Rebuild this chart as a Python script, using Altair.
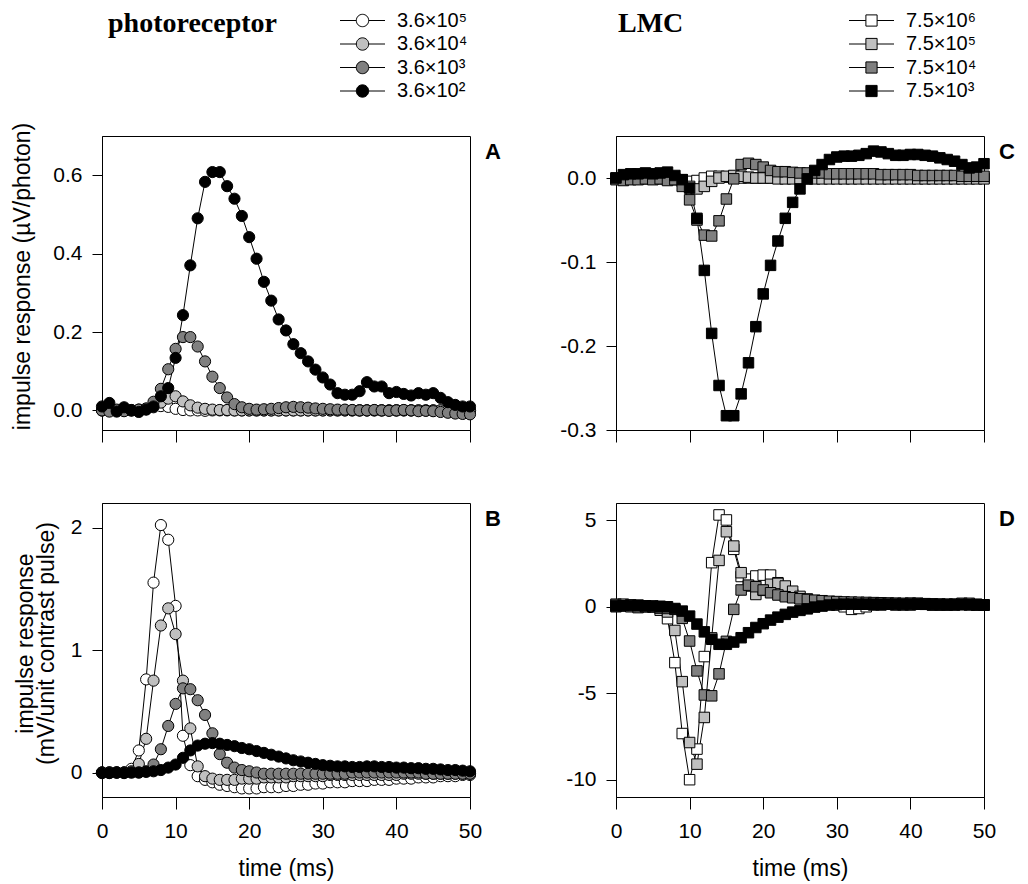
import altair as alt
import pandas as pd

# ---------------- data ----------------
t = list(range(51))  # time (ms)

photo_labels = ["3.6×10⁵", "3.6×10⁴", "3.6×10³", "3.6×10²"]
lmc_labels = ["7.5×10⁶", "7.5×10⁵", "7.5×10⁴", "7.5×10³"]
fills = ["#ffffff", "#c0c0c0", "#808080", "#000000"]

# Panel A: photoreceptor, µV/photon
A_white = [0.000, 0.000, 0.000, 0.000, 0.000, 0.001, 0.003, 0.008, 0.011, 0.009,
           0.004, 0.001, 0.000, 0.000, -0.001, 0.000, 0.000, 0.000, 0.000, 0.000,
           0.000, 0.000, 0.000, 0.000, 0.000, 0.000, 0.000, 0.000, 0.000, 0.000,
           0.000, 0.000, 0.000, 0.000, 0.000, 0.000, 0.000, 0.000, 0.000, 0.000,
           0.000, 0.000, 0.000, 0.000, 0.000, 0.000, 0.000, 0.000, 0.000, 0.000, 0.000]
A_light = [0.000, 0.001, -0.001, 0.000, 0.001, 0.002, 0.004, 0.010, 0.020, 0.030,
           0.036, 0.023, 0.013, 0.007, 0.004, 0.002, 0.001, 0.001, 0.000, 0.000,
           0.000, 0.000, 0.000, 0.000, 0.000, 0.000, 0.000, 0.000, 0.000, 0.000,
           0.000, 0.000, 0.000, 0.000, 0.000, 0.000, 0.000, 0.000, 0.000, 0.000,
           0.000, 0.000, 0.000, 0.000, 0.000, 0.000, 0.000, 0.000, 0.000, 0.000, 0.000]
A_dark = [0.000, -0.003, 0.002, -0.002, 0.000, 0.002, 0.005, 0.022, 0.055, 0.105,
          0.157, 0.187, 0.187, 0.163, 0.125, 0.086, 0.057, 0.033, 0.016, 0.008,
          0.004, 0.002, 0.003, 0.004, 0.006, 0.008, 0.009, 0.008, 0.007, 0.005,
          0.004, 0.003, 0.002, 0.002, 0.001, 0.000, 0.000, 0.001, 0.000, -0.001,
          0.000, 0.001, 0.000, -0.002, -0.001, -0.002, -0.004, -0.006, -0.008, -0.009, -0.010]
A_black = [0.010, 0.019, -0.003, 0.008, 0.000, -0.004, 0.002, 0.010, 0.036, 0.057,
           0.134, 0.243, 0.370, 0.490, 0.583, 0.608, 0.608, 0.572, 0.540, 0.496,
           0.442, 0.387, 0.328, 0.280, 0.232, 0.204, 0.169, 0.146, 0.125, 0.104,
           0.084, 0.066, 0.044, 0.040, 0.040, 0.049, 0.072, 0.061, 0.061, 0.044,
           0.047, 0.042, 0.038, 0.044, 0.040, 0.044, 0.032, 0.021, 0.014, 0.010, 0.010]

# Panel B: photoreceptor, mV/unit contrast pulse
B_white = [0.00, 0.00, 0.00, 0.00, 0.03, 0.18, 0.76, 1.55, 2.02, 1.90,
           1.36, 0.30, 0.06, -0.03, -0.06, -0.08, -0.10, -0.11, -0.12, -0.13,
           -0.13, -0.13, -0.12, -0.12, -0.12, -0.11, -0.11, -0.10, -0.10, -0.09,
           -0.09, -0.08, -0.08, -0.08, -0.07, -0.07, -0.07, -0.06, -0.06, -0.06,
           -0.05, -0.05, -0.05, -0.04, -0.04, -0.04, -0.03, -0.03, -0.03, -0.02, -0.02]
B_light = [0.00, 0.00, 0.00, 0.00, 0.01, 0.07, 0.275, 0.75, 1.20, 1.34,
           1.13, 0.75, 0.36, 0.05, -0.03, -0.05, -0.06, -0.06, -0.06, -0.05,
           -0.05, -0.05, -0.04, -0.04, -0.04, -0.04, -0.03, -0.03, -0.03, -0.03,
           -0.03, -0.02, -0.02, -0.02, -0.02, -0.02, -0.02, -0.02, -0.02, -0.02,
           -0.02, -0.01, -0.01, -0.01, -0.01, -0.01, -0.01, -0.01, -0.01, -0.01, -0.01]
B_dark = [0.00, 0.00, 0.00, 0.00, 0.00, 0.00, 0.01, 0.065, 0.19, 0.38,
          0.56, 0.687, 0.68, 0.59, 0.47, 0.32, 0.15, 0.08, 0.04, 0.02,
          0.01, 0.00, -0.01, -0.01, -0.01, -0.01, -0.01, -0.01, -0.01, -0.01,
          -0.01, -0.01, -0.01, -0.01, 0.00, 0.00, 0.00, 0.00, 0.00, 0.00,
          0.00, 0.00, 0.00, 0.00, -0.01, -0.01, -0.01, -0.01, -0.01, -0.01, -0.01]
B_black = [-0.005, -0.005, 0.000, -0.005, 0.000, 0.000, 0.005, 0.010, 0.020, 0.040,
           0.065, 0.120, 0.180, 0.220, 0.235, 0.240, 0.235, 0.225, 0.215, 0.200,
           0.190, 0.175, 0.160, 0.145, 0.130, 0.115, 0.100, 0.090, 0.080, 0.070,
           0.060, 0.055, 0.050, 0.050, 0.045, 0.045, 0.050, 0.050, 0.045, 0.045,
           0.040, 0.040, 0.035, 0.035, 0.030, 0.030, 0.025, 0.020, 0.020, 0.015, 0.010]

# Panel C: LMC, µV/photon
C_white = [0.000, 0.000, 0.000, 0.000, 0.000, 0.000, 0.000, 0.000, -0.001, -0.002,
           -0.004, -0.003, 0.000, 0.002, 0.002, 0.001, 0.000, 0.000, 0.000, 0.000,
           0.000, 0.000, 0.000, 0.000, 0.000, 0.000, 0.000, 0.000, 0.000, 0.000,
           0.000, 0.000, 0.000, 0.000, 0.000, 0.000, 0.000, 0.000, 0.000, 0.000,
           0.000, 0.000, 0.000, 0.000, 0.000, 0.000, 0.000, 0.000, 0.000, 0.000, 0.000]
C_light = [-0.001, -0.001, -0.001, -0.001, -0.001, -0.001, -0.001, -0.001, -0.002, -0.004,
           -0.010, -0.013, -0.010, -0.004, 0.000, 0.002, 0.003, 0.002, 0.001, 0.000,
           0.000, 0.000, -0.001, -0.001, -0.001, -0.001, -0.001, -0.001, -0.001, -0.001,
           -0.001, -0.001, -0.001, -0.001, -0.001, -0.001, -0.001, -0.001, -0.001, -0.001,
           -0.001, -0.001, -0.001, -0.001, -0.001, -0.001, -0.001, -0.001, -0.001, -0.001, -0.001]
C_dark = [-0.002, -0.003, -0.002, -0.002, -0.001, -0.002, -0.001, -0.003, -0.002, -0.010,
          -0.026, -0.050, -0.068, -0.069, -0.051, -0.025, -0.001, 0.016, 0.0175, 0.016,
          0.013, 0.009, 0.0075, 0.0075, 0.0067, 0.006, 0.006, 0.006, 0.006, 0.005,
          0.005, 0.005, 0.005, 0.005, 0.005, 0.005, 0.004, 0.004, 0.004, 0.004,
          0.004, 0.003, 0.003, 0.003, 0.003, 0.003, 0.003, 0.002, 0.002, 0.002, 0.002]
C_black = [0.000, 0.004, 0.005, 0.005, 0.006, 0.005, 0.006, 0.007, 0.003, -0.002,
           -0.012, -0.048, -0.110, -0.185, -0.247, -0.283, -0.283, -0.257, -0.220, -0.177,
           -0.138, -0.104, -0.075, -0.048, -0.029, -0.013, -0.001, 0.009, 0.016, 0.022,
           0.025, 0.026, 0.026, 0.027, 0.029, 0.032, 0.031, 0.029, 0.027, 0.027,
           0.028, 0.028, 0.027, 0.026, 0.024, 0.022, 0.020, 0.016, 0.012, 0.013, 0.017]

# Panel D: LMC, mV/unit contrast pulse
D_white = [0.15, 0.15, 0.10, 0.10, 0.05, 0.00, -0.20, -0.69, -3.23, -7.33,
           -10.0, -8.23, -2.88, 2.55, 5.31, 5.02, 3.32, 1.75, 1.60, 1.78,
           1.83, 1.83, 1.39, 1.00, 0.70, 0.50, 0.40, 0.30, 0.25, 0.20,
           0.10, 0.00, -0.15, -0.10, 0.00, 0.10, 0.10, 0.15, 0.15, 0.15,
           0.20, 0.20, 0.15, 0.10, 0.10, 0.10, 0.15, 0.20, 0.20, 0.15, 0.10]
D_light = [0.10, 0.05, 0.10, 0.05, 0.00, 0.00, -0.10, -0.30, -1.37, -4.33,
           -7.85, -9.10, -6.40, -1.80, 2.68, 4.34, 3.51, 1.97, 1.20, 0.71,
           0.95, 1.30, 1.35, 1.20, 0.90, 0.60, 0.45, 0.35, 0.30, 0.25,
           0.20, 0.20, 0.20, 0.15, 0.15, 0.15, 0.15, 0.15, 0.10, 0.10,
           0.10, 0.15, 0.15, 0.10, 0.10, 0.10, 0.10, 0.15, 0.15, 0.10, 0.10]
D_dark = [0.00, 0.05, 0.00, -0.05, 0.00, 0.00, -0.05, -0.10, -0.15, -0.67,
          -1.98, -3.71, -5.10, -5.15, -3.88, -2.00, -0.15, 0.97, 1.25, 1.16,
          0.97, 0.81, 0.68, 0.58, 0.52, 0.46, 0.42, 0.38, 0.35, 0.32,
          0.30, 0.28, 0.27, 0.26, 0.25, 0.24, 0.23, 0.22, 0.21, 0.20,
          0.20, 0.19, 0.18, 0.17, 0.16, 0.15, 0.14, 0.13, 0.12, 0.11, 0.10]
D_black = [0.05, 0.08, 0.08, 0.06, 0.05, 0.05, 0.03, 0.00, -0.10, -0.25,
           -0.54, -1.00, -1.45, -1.88, -2.17, -2.17, -2.04, -1.79, -1.50, -1.20,
           -0.98, -0.77, -0.60, -0.44, -0.31, -0.21, -0.12, -0.02, 0.04, 0.10,
           0.13, 0.15, 0.15, 0.15, 0.15, 0.15, 0.15, 0.15, 0.15, 0.15,
           0.15, 0.15, 0.14, 0.14, 0.13, 0.13, 0.12, 0.12, 0.11, 0.11, 0.10]

x_ticks = [0, 10, 20, 30, 40, 50]

FONT = "Liberation Sans"
CIRCLE_PATH = "M-2.25,0H-0.62M0.62,0H2.25M-0.62,0A0.62,0.62,0,1,0,0.62,0A0.62,0.62,0,1,0,-0.62,0Z"
SQUARE_PATH = "M-2.25,0H-0.56M0.56,0H2.25M-0.56,-0.56H0.56V0.56H-0.56Z"

W, H = 368, 294


def long_df(series_list, labels):
    rows = []
    for k, (lab, vals) in enumerate(zip(labels, series_list)):
        for tt, v in zip(t, vals):
            rows.append({"t": tt, "v": v, "s": lab, "k": k})
    return pd.DataFrame(rows)


def panel(df, labels, shape, size, ydomain, yticks, yfmt, ytitle, ytitle_x,
          show_x_labels, letter, legend_path=None, legend_x=0, heading=None, heading_x=0):
    xaxis = alt.Axis(values=x_ticks, labels=show_x_labels,
                     title="time (ms)" if show_x_labels else None,
                     grid=False, tickSize=12, tickColor="black", domainColor="black",
                     labelFont=FONT, labelFontSize=21, labelColor="black", labelPadding=11,
                     labelFlush=False, labelOverlap=False, labelBound=False,
                     titleFont=FONT, titleFontSize=23, titleFontWeight="normal",
                     titleColor="black", titleY=60, titleBaseline="top")
    yaxis = alt.Axis(values=yticks,
                     labelExpr="replace(format(datum.value, '%s'), '\u2212', '-')" % yfmt,
                     title=ytitle, grid=False, tickSize=10, tickColor="black",
                     domainColor="black", labelFont=FONT, labelFontSize=21,
                     labelColor="black", labelPadding=10, labelOverlap=False,
                     labelBound=False, labelFlush=False,
                     titleFont=FONT, titleFontSize=23, titleFontWeight="normal",
                     titleColor="black", titleX=ytitle_x, titleY=140,
                     titleAngle=270, titleBaseline="bottom", titleAlign="center",
                     titleLineHeight=21)
    x = alt.X("t:Q", scale=alt.Scale(domain=[0, 50], nice=False, zero=False), axis=xaxis)
    y = alt.Y("v:Q", scale=alt.Scale(domain=ydomain, nice=False, zero=False), axis=yaxis)

    lines = alt.Chart(df).mark_line(color="black", strokeWidth=1).encode(
        x=x, y=y, detail="s:N", order="t:Q")

    if legend_path:
        legend = alt.Legend(orient="none", legendX=legend_x, legendY=-126, title=None,
                            symbolType=legend_path, symbolSize=400,
                            symbolStrokeColor="black", symbolStrokeWidth=1,
                            symbolOpacity=1, labelFont=FONT, labelFontSize=20,
                            labelColor="black", labelOffset=24, rowPadding=2.5,
                            padding=0)
    else:
        legend = None

    pts = alt.Chart(df).mark_point(shape=shape, size=size, filled=True, stroke="black",
                                   strokeWidth=1, opacity=1).encode(
        x=x, y=y,
        fill=alt.Fill("s:N", scale=alt.Scale(domain=labels, range=fills), legend=legend),
        order="k:Q")

    letter_txt = alt.Chart(pd.DataFrame({"lab": [letter]})).mark_text(
        font=FONT, fontSize=22, fontWeight="bold", align="center", baseline="alphabetic",
        color="black").encode(text="lab:N", x=alt.value(391), y=alt.value(23))

    layers = [lines, pts, letter_txt]
    if heading:
        head = alt.Chart(pd.DataFrame({"lab": [heading]})).mark_text(
            font="Liberation Serif", fontSize=28, fontWeight="bold", align="left",
            baseline="alphabetic", color="black").encode(
            text="lab:N", x=alt.value(heading_x), y=alt.value(-104))
        layers.append(head)
    return alt.layer(*layers).properties(width=W, height=H)


dfA = long_df([A_white, A_light, A_dark, A_black], photo_labels)
dfB = long_df([B_white, B_light, B_dark, B_black], photo_labels)
dfC = long_df([C_white, C_light, C_dark, C_black], lmc_labels)
dfD = long_df([D_white, D_light, D_dark, D_black], lmc_labels)

pA = panel(dfA, photo_labels, "circle", 125, [-0.05, 0.7], [0, 0.2, 0.4, 0.6], ".1f",
           "impulse response (µV/photon)", -68, False, "A",
           legend_path=CIRCLE_PATH, legend_x=250, heading="photoreceptor", heading_x=6)
pB = panel(dfB, photo_labels, "circle", 125, [-0.2, 2.2], [0, 1, 2], "d",
           ["impulse response", "(mV/unit contrast pulse)"], -65, True, "B")
pC = panel(dfC, lmc_labels, "square", 110, [-0.3, 0.05], [-0.3, -0.2, -0.1, 0.0], ".1f",
           None, -64, False, "C",
           legend_path=SQUARE_PATH, legend_x=245, heading="LMC", heading_x=2)
pD = panel(dfD, lmc_labels, "square", 110, [-11, 6], [-10, -5, 0, 5], "d",
           None, -64, True, "D")

chart = alt.concat(pA, pC, pB, pD, columns=2,
                   spacing=alt.RowColnumber(row=73, column=146),
                   bounds="flush").resolve_scale(fill="independent").properties(
    padding={"left": 10, "top": 9, "right": 5, "bottom": 5},
    background="white",
).configure_view(stroke="black", strokeWidth=1)

chart.save("out.html", embed_options={"renderer": "svg", "actions": False})
